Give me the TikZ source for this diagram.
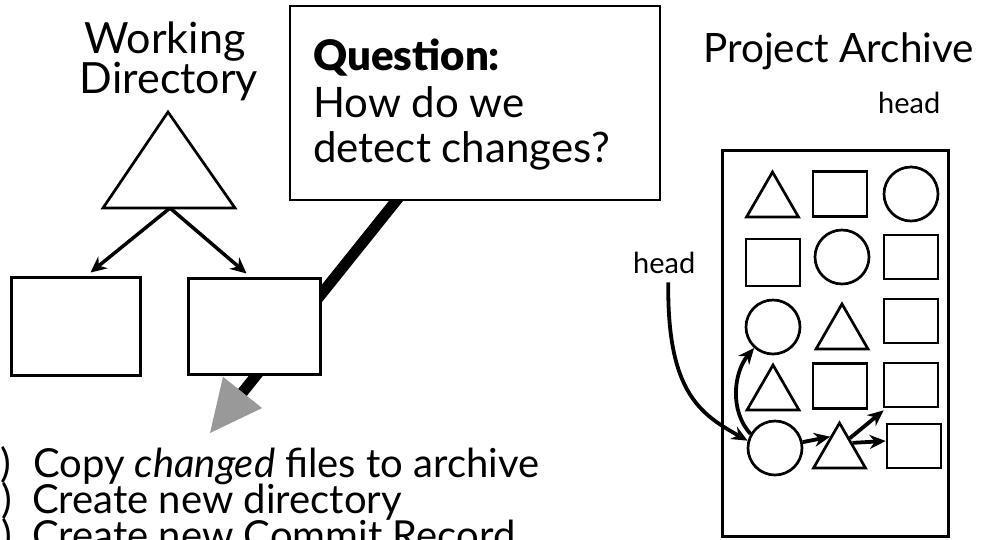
\documentclass[tikz,border=0pt]{standalone}
\usepackage{fontspec}
\setmainfont{Lato}
\newfontfamily\qblack{Lato Black}
\usetikzlibrary{arrows.meta,shapes.geometric,calc,backgrounds}
\definecolor{tipgray}{RGB}{153,153,153}
\begin{document}
\begin{tikzpicture}[x=1pt,y=-1pt,
  lbl/.style={inner sep=0pt, anchor=base west},
  ctr/.style={inner sep=0pt, anchor=base},
  bigfont/.style={font=\fontsize{43}{43}\selectfont},
  qfont/.style={font=\fontsize{42}{42}\selectfont},
  listfont/.style={font=\fontsize{40}{40}\selectfont},
  pafont/.style={font=\fontsize{40.5}{40.5}\selectfont},
  headfont/.style={font=\fontsize{29}{29}\selectfont},
  frame/.style={draw, line width=3pt, inner sep=0pt, fill=white},
  shp/.style={draw, line width=2.7pt, inner sep=0pt},
  sq/.style={shp, rectangle, minimum width=54pt, minimum height=45pt},
  circ/.style={shp, circle, minimum size=54pt},
  tri/.style={shp, regular polygon, regular polygon sides=3, minimum size=60pt},
  wdarr/.style={line width=3.5pt, -{Stealth[length=16pt,width=15pt]}},
  arr/.style={line width=3.8pt, -{Stealth[length=16pt,width=14pt]}},
]
\useasboundingbox (0,0) rectangle (984,539);

% ---------- Working directory ----------
\node[ctr, bigfont] (w1) at (165,53) {Working};
\node[ctr, bigfont] (w2) at (169,93) {Directory};
\draw[line width=2.7pt, line join=miter] (168,112) -- (235,208) -- (103,208) -- cycle;
\coordinate (wdb) at (170,208);
\node[frame, minimum width=129pt, minimum height=98pt] (lbox) at (75.5,326) {};
\node[frame, minimum width=132pt, minimum height=96pt] (rbox) at (254,326) {};
\draw[wdarr] (wdb) -- ($(lbox.north west)+(81,-3)$);
\draw[wdarr] (wdb) -- ($(rbox.north west)+(60,-3)$);

% ---------- Question box ----------
\node[frame, line width=2.8pt, minimum width=370pt, minimum height=194pt] (qb) at (475,103) {};
\node[lbl, qfont] (q1) at (313,70) {\qblack Question:};
\node[lbl, qfont] (q2) at (313,117) {How do we};
\node[lbl, qfont] (q3) at (313,162) {detect changes?};
\coordinate (tip) at (210,433);
\coordinate (fs) at ($(qb.south west)+(119,-15)$);
\coordinate (hb) at ($(tip)!52pt!(fs)$);
\coordinate (hb2) at ($(tip)!44pt!(fs)$);
\begin{scope}[on background layer]
  \draw[line width=11pt] (fs) -- (hb2);
\end{scope}
\fill[tipgray] (tip) -- ($(hb)!25pt!90:(tip)$) -- ($(hb)!25pt!-90:(tip)$) -- cycle;

% ---------- steps ----------
\node[lbl, listfont] (l1) at (33,477) {\llap{1)\hspace{22pt}}Copy \textit{changed} files to archive};
\node[lbl, listfont] (l2) at (32,513) {\llap{2)\hspace{20pt}}Create new directory};
\node[lbl, listfont] (l3) at (32,549) {\llap{3)\hspace{20pt}}Create new Commit Record};

% ---------- Project archive ----------
\node[lbl, pafont] (pa) at (703,62) {Project Archive};
\node[lbl, headfont] (ht) at (878,113) {head};
\node[lbl, headfont] (hl) at (633,273) {head};
\node[draw, line width=3pt, inner sep=0pt, minimum width=226pt, minimum height=386pt] (arch) at (835,343) {};

% row 1
\node[tri]  (t11) at (772.5,202) {};
\node[sq]   (s12) at (840,194) {};
\node[circ] (c13) at (911,194) {};
% row 2
\node[sq, minimum height=47pt] (s21) at (773,262.5) {};
\node[circ] (c22) at (842,257) {};
\node[sq, minimum height=44pt] (s23) at (911,257) {};
% row 3
\node[circ] (c31) at (773,327) {};
\node[tri]  (t32) at (842,334) {};
\node[sq, minimum height=44pt] (s33) at (911,321) {};
% row 4
\node[tri]  (t41) at (773,395) {};
\node[sq]   (s42) at (840,386) {};
\node[sq, minimum height=44pt] (s43) at (911,385) {};
% row 5
\node[circ] (c51) at (775,448) {};
\node[tri]  (t52) at (839.5,453) {};
\node[sq, minimum height=44pt] (s53) at (914,446) {};

% arrows
\draw[arr] ($(hl.south)+(4,9)$) .. controls (667,392) and (700,414) .. (c51.165);
\draw[arr] (c51.150) .. controls (729,410) and (734,372) .. (c31.228);
\draw[arr] (c51.12) -- (t52.120);
\draw[arr] (t52.55) -- ($(s43.south west)+(1,2)$);
\draw[arr] (t52.38) -- (s53.170);
\end{tikzpicture}
\end{document}
